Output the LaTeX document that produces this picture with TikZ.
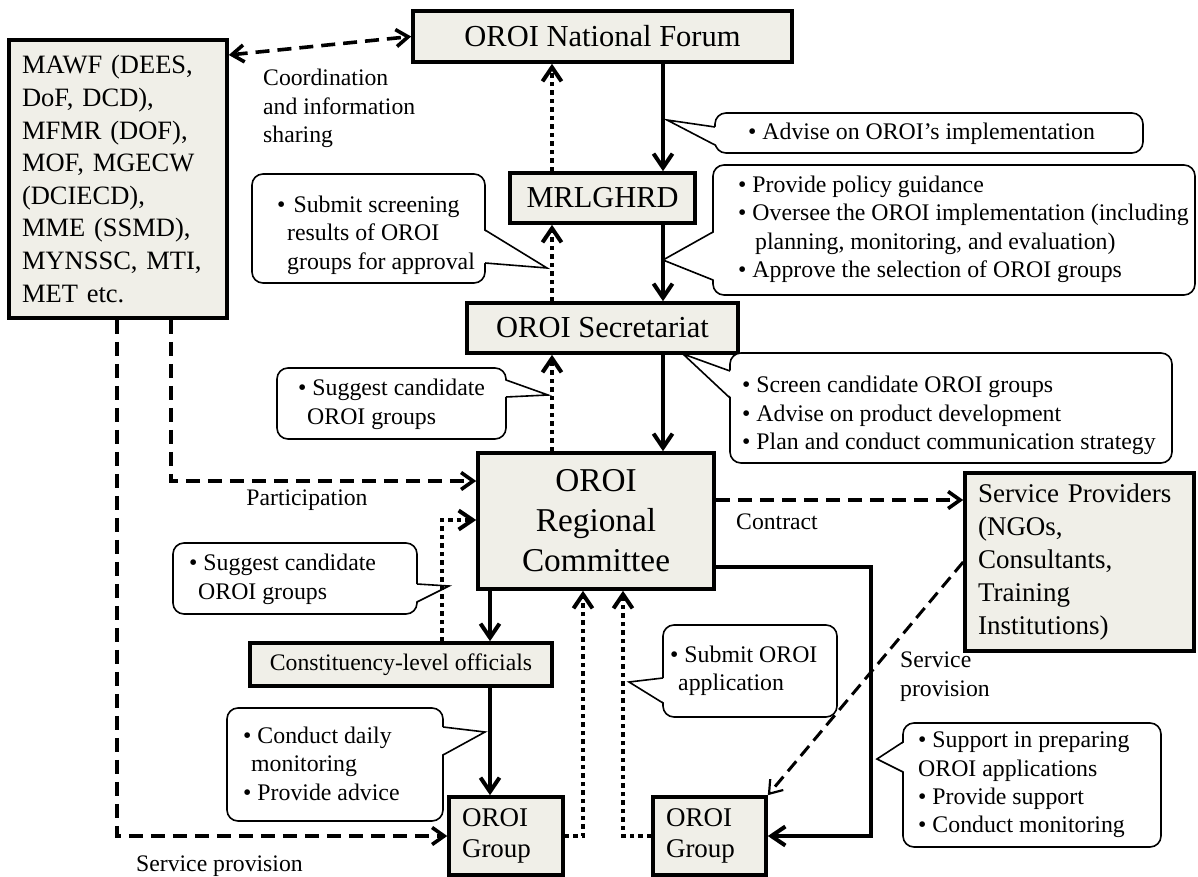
\documentclass[tikz,border=0pt]{standalone}
\usepackage{fontspec}
\setmainfont{Liberation Serif}
\usetikzlibrary{arrows.meta,calc}
\definecolor{boxfill}{RGB}{240,239,232}
\newcommand\ptrL[4]{\fill[white] (#1) -- (#2+2,#3) -- (#2+2,#4) -- cycle; \draw[line width=1.6pt] (#2,#3) -- (#1) -- (#2,#4);}
\newcommand\ptrR[4]{\fill[white] (#1) -- (#2-2,#3) -- (#2-2,#4) -- cycle; \draw[line width=1.6pt] (#2,#3) -- (#1) -- (#2,#4);}
\begin{document}
\begin{tikzpicture}[x=1pt,y=-1pt,
  box/.style={draw, line width=3.6pt, fill=boxfill, inner sep=0pt},
  co/.style={draw, line width=1.6pt, rounded corners=11pt, fill=white, inner sep=0pt},
  ctext/.style={inner sep=0pt, align=left, anchor=west, font=\fontsize{23.8}{28.4}\selectfont},
  lbl/.style={inner sep=0pt, align=left, font=\fontsize{23.7}{28.5}\selectfont},
  solidarr/.style={line width=4pt, -{Straight Barb[length=14pt,width=19pt]}},
  dotarr/.style={line width=4.5pt, dash pattern=on 4.5pt off 4pt, -{Straight Barb[length=14pt,width=19pt,line width=4pt]}},
  dasharr/.style={line width=3.6pt, dash pattern=on 14pt off 8pt, -{Straight Barb[length=12pt,width=17pt]}},
  thindash/.style={line width=3pt, dash pattern=on 13pt off 7pt, -{Straight Barb[length=12pt,width=17pt,line width=2.2pt]}},
]
\useasboundingbox (0,0) rectangle (1198,877);

% ---------- boxes ----------
\node[box, minimum width=218, minimum height=278, text width=192, align=left,
      font=\fontsize{26.5}{32.6}\selectfont] (mawf) at (118,179)
  {MAWF (DEES,\\DoF, DCD),\\MFMR (DOF),\\MOF, MGECW\\(DCIECD),\\MME (SSMD),\\MYNSSC, MTI,\\MET etc.};
\node[box, minimum width=379, minimum height=51, font=\fontsize{30.5}{36}\selectfont] (nf) at (602.5,36.5) {OROI National Forum};
\node[box, minimum width=185, minimum height=50, font=\fontsize{30.4}{36}\selectfont] (mrl) at (602.5,198) {MRLGHRD};
\node[box, minimum width=271, minimum height=50, font=\fontsize{30.5}{36}\selectfont] (sec) at (602.5,328) {OROI Secretariat};
\node[box, minimum width=236, minimum height=136, align=center, font=\fontsize{33.3}{40}\selectfont] (rc) at (596,521) {OROI\\Regional\\Committee};
\node[box, minimum width=302, minimum height=43, font=\fontsize{23.7}{28}\selectfont] (con) at (401,664.5) {Constituency-level officials};
\node[box, minimum width=114, minimum height=78, text width=88, align=left, font=\fontsize{27}{31}\selectfont] (og1) at (506,836) {OROI\\Group};
\node[box, minimum width=113, minimum height=78, text width=87, align=left, font=\fontsize{27}{31}\selectfont] (og2) at (709.5,836) {OROI\\Group};
\node[box, minimum width=229, minimum height=178, text width=203, align=left, font=\fontsize{27}{32.8}\selectfont] (sp) at (1079.5,562)
  {Service Providers\\(NGOs,\\Consultants,\\Training\\Institutions)};

% ---------- callouts ----------
\node[co, minimum width=428, minimum height=40] (cA) at (929,133) {};
\node[co, minimum width=482, minimum height=130] (cB) at (954,230) {};
\node[co, minimum width=442, minimum height=110] (cC) at (951,408) {};
\node[co, minimum width=233, minimum height=109] (cD) at (368.5,228.5) {};
\node[co, minimum width=229, minimum height=71] (cE) at (391.5,403.5) {};
\node[co, minimum width=244, minimum height=71] (cF) at (295,578.5) {};
\node[co, minimum width=216, minimum height=113] (cG) at (335,764.5) {};
\node[co, minimum width=174, minimum height=92] (cH) at (750,671) {};
\node[co, minimum width=258, minimum height=124] (cI) at (1032,785) {};

\coordinate (tA) at (667,120);
\coordinate (tB) at (663,260);
\coordinate (tC) at (683,354);
\coordinate (tD) at (547,268);
\coordinate (tE) at (548,395);
\coordinate (tF) at (449,586);
\coordinate (tG) at (485,732);
\coordinate (tH) at (629,682);
\coordinate (tI) at (877,759);
\ptrL{tA}{715}{127}{145}
\ptrL{tB}{713}{232}{280}
\ptrL{tC}{730}{371}{398}
\ptrR{tD}{485}{230}{263}
\ptrR{tE}{506}{380}{397}
\ptrR{tF}{417}{584}{602}
\ptrR{tG}{443}{727}{755}
\ptrL{tH}{663}{678}{703}
\ptrL{tI}{903}{742}{772}

\node[ctext] (xA) at (748,134) {• Advise on OROI’s implementation};
\node[ctext] (xB) at (738,229.5) {• Provide policy guidance\\• Oversee the OROI implementation (including\\\hspace*{17pt}planning, monitoring, and evaluation)\\• Approve the selection of OROI groups};
\node[ctext] (xC) at (742,415.5) {• Screen candidate OROI groups\\• Advise on product development\\• Plan and conduct communication strategy};
\node[ctext] (xD) at (277,235) {•\hspace{8pt}Submit screening\\\hspace*{10pt}results of OROI\\\hspace*{10pt}groups for approval};
\node[ctext] (xE) at (298,404.5) {• Suggest candidate\\\hspace*{9pt}OROI groups};
\node[ctext] (xF) at (189,579.5) {• Suggest candidate\\\hspace*{9pt}OROI groups};
\node[ctext] (xG) at (243,763.5) {• Conduct daily\\\hspace*{8pt}monitoring\\• Provide advice};
\node[ctext] (xH) at (670,670.5) {• Submit OROI\\\hspace*{8pt}application};
\node[ctext] (xI) at (918,785) {• Support in preparing\\OROI applications\\• Provide support\\• Conduct monitoring};

% ---------- labels ----------
\node[lbl, anchor=west] (lCo) at (263,108.5) {Coordination\\and information\\sharing};
\node[lbl] (lPa) at (307,500) {Participation};
\node[lbl, anchor=west] (lSp) at (136,866) {Service provision};
\node[lbl, anchor=west] (lCt) at (736,522) {Contract};
\node[lbl, anchor=west] (lSp2) at (900,676.5) {Service\\provision};

% ---------- helper coordinates ----------
\coordinate (xR) at (663,0);
\coordinate (xL) at (552,0);
\coordinate (xP) at (171,0);
\coordinate (yP) at (0,481);
\coordinate (xS) at (117,0);
\coordinate (yC) at (0,500);
\coordinate (yK) at (0,567);
\coordinate (xK) at (871,0);
\coordinate (yD) at (0,562);
\coordinate (xBt) at (490,0);
\coordinate (xQ) at (442,0);
\coordinate (yQ) at (0,520);
\coordinate (xU1) at (583,0);
\coordinate (xU2) at (623,0);
\coordinate (yM) at (0,55);

% ---------- connectors ----------
\draw[dasharr, {Straight Barb[length=12pt,width=17pt]}-{Straight Barb[length=12pt,width=17pt]}] (mawf.east |- yM) -- (nf.west);
\draw[solidarr] (nf.south -| xR) -- (mrl.north -| xR);
\draw[dotarr] (mrl.north -| xL) -- (nf.south -| xL);
\draw[solidarr] (mrl.south -| xR) -- (sec.north -| xR);
\draw[dotarr] (sec.north -| xL) -- (mrl.south -| xL);
\draw[solidarr] (sec.south -| xR) -- (rc.north -| xR);
\draw[dotarr] (rc.north -| xL) -- (sec.south -| xL);
\draw[dasharr] (mawf.south -| xP) |- (rc.west |- yP);
\draw[dasharr] (mawf.south -| xS) |- (og1.west);
\draw[dasharr] (rc.east |- yC) -- (sp.west |- yC);
\draw[solidarr] (rc.east |- yK) -| (xK |- og2.east) -- (og2.east);
\draw[solidarr] (rc.south -| xBt) -- (con.north -| xBt);
\draw[solidarr] (con.south -| xBt) -- (og1.north -| xBt);
\draw[dotarr] (con.north -| xQ) |- (rc.west |- yQ);
\draw[dotarr] (og1.east) -| (rc.south -| xU1);
\draw[dotarr] (og2.west) -| (rc.south -| xU2);
\draw[thindash] (sp.west |- yD) -- (og2.north east);
\end{tikzpicture}
\end{document}
